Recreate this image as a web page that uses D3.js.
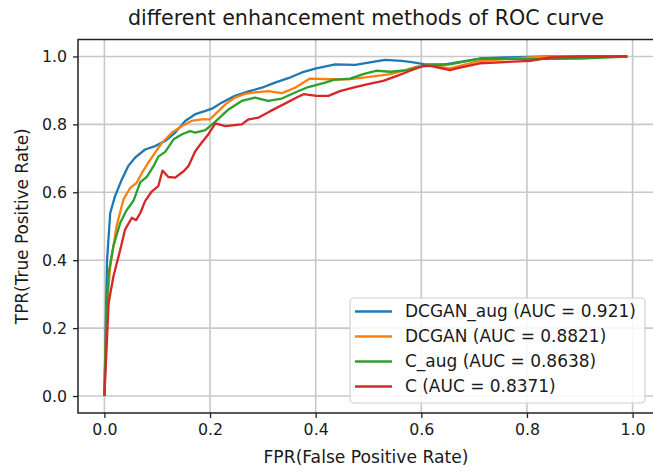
<!DOCTYPE html>
<html><head><meta charset="utf-8">
<script src="https://cdn.jsdelivr.net/npm/d3@7"></script>
<style>body{margin:0;background:#fff}svg{display:block}text{font-family:"DejaVu Sans",sans-serif;fill:#1a1a1a}</style>
</head><body><svg id="c" width="653" height="473"></svg>
<script>
const title = "different enhancement methods of ROC curve";
const xLabel = "FPR(False Positive Rate)";
const yLabel = "TPR(True Positive Rate)";
const tickValues = [0, 0.2, 0.4, 0.6, 0.8, 1.0];
const seriesNames = ["DCGAN_aug (AUC = 0.921)", "DCGAN (AUC = 0.8821)", "C_aug (AUC = 0.8638)", "C (AUC = 0.8371)"];
const seriesColors = ["#1f77b4", "#ff7f0e", "#2ca02c", "#d62728"];

const dcganAugFpr = [0,0.003,0.005,0.011,0.02,0.033,0.045,0.058,0.077,0.096,0.115,0.134,0.153,0.172,0.19,0.206,0.222,0.247,0.273,0.298,0.323,0.348,0.374,0.399,0.437,0.475,0.5,0.531,0.563,0.588,0.607,0.645,0.711,0.76,0.838,0.9,0.99];
const dcganAugTpr = [0,0.25,0.4,0.539,0.588,0.638,0.677,0.702,0.726,0.736,0.751,0.776,0.81,0.83,0.839,0.848,0.864,0.884,0.897,0.908,0.923,0.936,0.953,0.964,0.977,0.975,0.982,0.99,0.987,0.982,0.977,0.977,0.994,0.997,1.0,1.0,1.0];

const dcganFpr = [0,0.004,0.011,0.023,0.036,0.049,0.061,0.071,0.083,0.096,0.109,0.128,0.147,0.165,0.184,0.2,0.21,0.229,0.247,0.266,0.285,0.31,0.336,0.361,0.389,0.427,0.465,0.49,0.516,0.541,0.566,0.591,0.617,0.654,0.711,0.806,0.857,0.99];
const dcganTpr = [0,0.25,0.382,0.5,0.579,0.613,0.628,0.657,0.687,0.717,0.746,0.776,0.795,0.81,0.815,0.815,0.83,0.859,0.879,0.89,0.894,0.898,0.892,0.908,0.935,0.933,0.933,0.938,0.943,0.948,0.958,0.97,0.974,0.965,0.987,0.997,1.0,1.0];

const cAugFpr = [0,0.004,0.008,0.017,0.03,0.042,0.055,0.068,0.08,0.093,0.102,0.115,0.131,0.147,0.162,0.172,0.191,0.21,0.235,0.26,0.285,0.31,0.336,0.361,0.386,0.418,0.434,0.465,0.49,0.516,0.541,0.573,0.604,0.654,0.711,0.806,0.9,0.99];
const cAugTpr = [0,0.25,0.362,0.441,0.51,0.547,0.575,0.63,0.645,0.677,0.705,0.719,0.756,0.771,0.78,0.776,0.783,0.808,0.844,0.869,0.879,0.869,0.876,0.894,0.91,0.923,0.931,0.935,0.948,0.958,0.955,0.96,0.972,0.977,0.994,0.992,0.994,1.0];

const cFpr = [0,0.008,0.017,0.03,0.039,0.052,0.06,0.068,0.077,0.09,0.102,0.11,0.121,0.134,0.15,0.159,0.172,0.184,0.197,0.21,0.229,0.26,0.273,0.292,0.314,0.339,0.364,0.377,0.402,0.424,0.446,0.471,0.497,0.528,0.554,0.579,0.604,0.617,0.654,0.667,0.711,0.806,0.844,0.9,0.99];
const cTpr = [0,0.274,0.352,0.431,0.49,0.525,0.518,0.539,0.574,0.603,0.618,0.664,0.645,0.643,0.662,0.677,0.721,0.746,0.771,0.803,0.795,0.8,0.815,0.82,0.839,0.859,0.879,0.889,0.884,0.884,0.898,0.908,0.918,0.928,0.943,0.958,0.972,0.972,0.96,0.965,0.98,0.987,0.997,1.0,1.0];

const seriesFpr = [dcganAugFpr, dcganFpr, cAugFpr, cFpr];
const seriesTpr = [dcganAugTpr, dcganTpr, cAugTpr, cTpr];

const svg = d3.select("#c");
const x = d3.scaleLinear().domain([-0.05, 1.05]).range([78, 659]);
const y = d3.scaleLinear().domain([-0.05, 1.05]).range([413, 39.5]);
const fmt = d3.format(".1f");

// fit a text element's font size so its width matches a target width
function fit(sel, target) {
  const w = sel.node().getComputedTextLength();
  const fs = parseFloat(sel.attr("font-size"));
  if (w > 0) sel.attr("font-size", (fs * target / w).toFixed(2));
  return sel;
}

// grid
const grid = svg.append("g");
grid.selectAll(".gx").data(tickValues).join("line")
  .attr("x1", d => x(d)).attr("x2", d => x(d)).attr("y1", y.range()[0]).attr("y2", y.range()[1])
  .attr("stroke", "#c8c8c8").attr("stroke-width", 1.6);
grid.selectAll(".gy").data(tickValues).join("line")
  .attr("y1", d => y(d)).attr("y2", d => y(d)).attr("x1", x.range()[0]).attr("x2", x.range()[1])
  .attr("stroke", "#c8c8c8").attr("stroke-width", 1.6);

// curves
const line = d3.line().x(d => x(d[0])).y(d => y(d[1]));
seriesFpr.forEach((fpr, i) => {
  const pts = fpr.map((v, j) => [v, seriesTpr[i][j]]);
  svg.append("path").datum(pts).attr("d", line).attr("fill", "none")
    .attr("stroke", seriesColors[i]).attr("stroke-width", 2.3).attr("stroke-linejoin", "round");
});

// axes
const xAxis = svg.append("g").attr("transform", `translate(0,${y.range()[0]})`)
  .call(d3.axisBottom(x).tickValues(tickValues).tickFormat(fmt).tickSize(5).tickPadding(6));
const yAxis = svg.append("g").attr("transform", `translate(${x.range()[0]},0)`)
  .call(d3.axisLeft(y).tickValues(tickValues).tickFormat(fmt).tickSize(5).tickPadding(6));
[xAxis, yAxis].forEach(a => {
  a.select(".domain").remove();
  a.selectAll(".tick line").attr("stroke", "#222").attr("stroke-width", 1.3);
  a.selectAll(".tick text").attr("font-size", 15.8).attr("font-family", "DejaVu Sans").attr("fill", "#1a1a1a");
});
// frame (left, bottom, top; right edge is beyond the picture)
svg.append("path").attr("d", `M${x.range()[1]},${y.range()[1]}H${x.range()[0]}V${y.range()[0]}H${x.range()[1]}`)
  .attr("fill", "none").attr("stroke", "#222").attr("stroke-width", 1.5);

// labels
fit(svg.append("text").attr("x", 366).attr("y", 25).attr("text-anchor", "middle").attr("font-size", 18.5).text(title), 476);
fit(svg.append("text").attr("x", 366).attr("y", 463).attr("text-anchor", "middle").attr("font-size", 15.5).text(xLabel), 205);
fit(svg.append("text").attr("transform", `translate(28,${(y.range()[0] + y.range()[1]) / 2}) rotate(-90)`)
  .attr("text-anchor", "middle").attr("font-size", 15.5).text(yLabel), 196);

// legend
const lg = svg.append("g");
lg.append("rect").attr("x", 350).attr("y", 298).attr("width", 295).attr("height", 105).attr("rx", 4)
  .attr("fill", "#fff").attr("fill-opacity", 0.85).attr("stroke", "#d0d0d0").attr("stroke-width", 1.2);
let legendFs = null;
seriesNames.forEach((name, i) => {
  const cy = 311.5 + i * 25;
  lg.append("line").attr("x1", 355).attr("x2", 392).attr("y1", cy).attr("y2", cy)
    .attr("stroke", seriesColors[i]).attr("stroke-width", 2.3);
  const t = lg.append("text").attr("x", 405).attr("y", cy + 5.8).attr("font-size", 15.5).text(name);
  if (i === 0) { fit(t, 231); legendFs = t.attr("font-size"); }
  else t.attr("font-size", legendFs);
});
</script></body></html>
